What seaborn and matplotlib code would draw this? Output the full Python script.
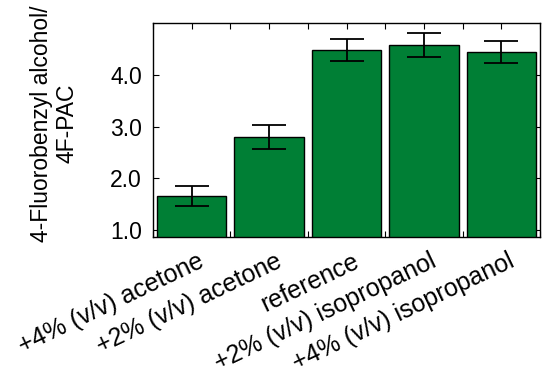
import numpy as np
import pandas as pd
import matplotlib
matplotlib.use("Agg")
import matplotlib.pyplot as plt
from matplotlib.ticker import FixedLocator
from matplotlib.transforms import ScaledTranslation
import seaborn as sns

# Data
conditions = ["+4% (v/v) acetone", "+2% (v/v) acetone", "reference",
              "+2% (v/v) isopropanol", "+4% (v/v) isopropanol"]
ratio = [1.66, 2.80, 4.48, 4.58, 4.44]
ratio_err = [0.19, 0.24, 0.22, 0.23, 0.22]
y_ticks = [1.0, 2.0, 3.0, 4.0]

df = pd.DataFrame({"condition": conditions, "ratio": ratio, "err": ratio_err})

sns.set_style("ticks")
plt.rcParams["font.family"] = ["Liberation Sans", "DejaVu Sans"]
plt.rcParams["text.color"] = "black"
plt.rcParams["axes.labelcolor"] = "black"
plt.rcParams["xtick.color"] = "black"
plt.rcParams["ytick.color"] = "black"

fig = plt.figure(figsize=(5.5, 3.79), dpi=100)
ax = fig.add_axes([0.278, 0.375, 0.704, 0.564])

sns.barplot(data=df, x="condition", y="ratio", color="#007f35",
            saturation=1, width=0.9, edgecolor="black", linewidth=1.0,
            errorbar=None, ax=ax)
ax.errorbar(np.arange(len(df)), df["ratio"], yerr=df["err"], fmt="none",
            ecolor="black", elinewidth=1.3, capsize=12.5, capthick=1.3)

ax.set_ylim(0.87, 5.0)
ax.set_xlim(-0.5, len(df) - 0.5)
ax.set_yticks(y_ticks)
ax.set_yticklabels([f"{v:.1f}" for v in y_ticks], fontsize=16.5)
ax.xaxis.set_minor_locator(FixedLocator(np.arange(len(df) + 1) - 0.5))
ax.set_axisbelow(True)
ax.tick_params(axis="both", which="both", direction="in", top=True, right=True,
               length=4, width=0.8, color="black")
ax.tick_params(axis="y", pad=8)
ax.tick_params(axis="x", which="major", pad=9)
ax.set_xticks(range(len(df)))
ax.set_xticklabels(conditions, rotation=25.5, ha="right", rotation_mode="anchor",
                   fontsize=18)
shift = ScaledTranslation(6 / 100, 0, fig.dpi_scale_trans)
for lbl in ax.get_xticklabels():
    lbl.set_transform(lbl.get_transform() + shift)
for s in ax.spines.values():
    s.set_linewidth(1.0)
    s.set_color("black")

ax.set_xlabel("")
ax.set_ylabel("4-Fluorobenzyl alcohol/\n4F-PAC", fontsize=16.5, linespacing=1.1)
ax.yaxis.set_label_coords(-0.193, 0.53)

fig.savefig("out.png", dpi=100)
